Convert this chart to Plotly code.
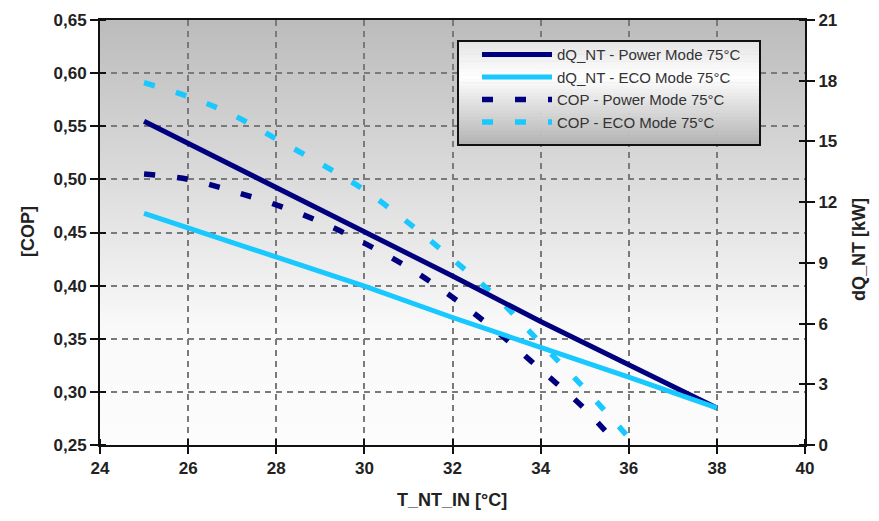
import plotly.graph_objects as go

# ---------------- data ----------------
t_dq = [25, 28, 30, 32, 34, 36, 38]
dq_power = [16.0, 12.75, 10.55, 8.35, 6.1, 3.95, 1.83]
dq_eco = [11.45, 9.3, 7.85, 6.3, 4.85, 3.35, 1.83]

t_cop_power = [25, 26, 27, 28, 29, 30, 31, 32, 33, 34, 35, 35.75]
cop_power = [0.505, 0.500, 0.489, 0.476, 0.460, 0.440, 0.417, 0.389, 0.357, 0.321, 0.284, 0.250]

t_cop_eco = [25, 26, 27, 28, 29, 30, 31, 32, 33, 34, 35, 36, 36.15]
cop_eco = [0.591, 0.578, 0.561, 0.538, 0.515, 0.490, 0.459, 0.425, 0.389, 0.346, 0.303, 0.257, 0.250]

names = ["dQ_NT - Power Mode 75°C", "dQ_NT - ECO Mode 75°C",
         "COP - Power Mode 75°C", "COP - ECO Mode 75°C"]

x_ticks = [24, 26, 28, 30, 32, 34, 36, 38, 40]
cop_ticks = [0.25, 0.30, 0.35, 0.40, 0.45, 0.50, 0.55, 0.60, 0.65]
kw_ticks = [0, 3, 6, 9, 12, 15, 18, 21]

x_title = "T_NT_IN [°C]"
y_title = "[COP]"
y2_title = "dQ_NT [kW]"

DARK = "#00007f"
LIGHT = "#18c8ff"
FONT = "Arial, Liberation Sans, sans-serif"

# page body has an 8px default margin -> figure is offset by 8px
OFF = 8

fig = go.Figure()
fig.add_trace(go.Scatter(x=t_dq, y=dq_power, yaxis="y2", mode="lines", name=names[0],
                         legendgroup="a", line=dict(color=DARK, width=5)))
fig.add_trace(go.Scatter(x=t_dq, y=dq_eco, yaxis="y2", mode="lines", name=names[1],
                         legendgroup="b", line=dict(color=LIGHT, width=5)))
fig.add_trace(go.Scatter(x=t_cop_power, y=cop_power, mode="lines", name=names[2],
                         legendgroup="c", line=dict(color=DARK, width=5.5, dash="11px,22px", shape="spline")))
fig.add_trace(go.Scatter(x=t_cop_eco, y=cop_eco, mode="lines", name=names[3],
                         legendgroup="d", line=dict(color=LIGHT, width=5.5, dash="11px,22px", shape="spline")))

shapes = []
# plot-area vertical gradient
n = 85
for i in range(n):
    t = (i + 0.5) / n  # 0 at top
    if t <= 0.72:
        g = 188 + (249 - 188) * t / 0.72
    else:
        g = 249 + 3 * (t - 0.72) / 0.28
    c = int(round(g))
    shapes.append(dict(type="rect", xref="paper", yref="paper",
                       x0=0, x1=1, y0=1 - (i + 1) / n, y1=1 - i / n + 0.002,
                       fillcolor=f"rgb({c},{c},{c})", line=dict(width=0), layer="below"))

# legend box gradient
lx0, lx1 = (458 - 100) / 705, (760 - 100) / 705
ly0, ly1 = (445 - 145) / 425, (445 - 41) / 425
m = 30
for i in range(m):
    t = (i + 0.5) / m
    if t < 0.35:
        g = 228 + (255 - 228) * t / 0.35
    else:
        g = 255 - (255 - 178) * (t - 0.35) / 0.65
    c = int(round(g))
    shapes.append(dict(type="rect", xref="paper", yref="paper",
                       x0=lx0, x1=lx1,
                       y0=ly1 - (i + 1) * (ly1 - ly0) / m, y1=ly1 - i * (ly1 - ly0) / m + 0.001,
                       fillcolor=f"rgb({c},{c},{c})", line=dict(width=0), layer="above"))
shapes.append(dict(type="rect", xref="paper", yref="paper", x0=lx0, x1=lx1, y0=ly0, y1=ly1,
                   line=dict(color="#111111", width=2), fillcolor="rgba(0,0,0,0)", layer="above"))

tickfont = dict(family=FONT, size=17, color="#222222", weight="bold")
titlefont = dict(family=FONT, size=18, color="#222222", weight="bold")

annotations = [
    dict(text=y_title, xref="paper", yref="paper", x=(28 - 100) / 705, y=(445 - 232) / 425,
         textangle=-90, showarrow=False, font=titlefont, xanchor="center", yanchor="middle"),
    dict(text=y2_title, xref="paper", yref="paper", x=(859 - 100) / 705, y=(445 - 250) / 425,
         textangle=-90, showarrow=False, font=titlefont, xanchor="center", yanchor="middle"),
    dict(text=x_title, xref="paper", yref="paper", x=(452 - 100) / 705, y=(445 - 500) / 425,
         showarrow=False, font=titlefont, xanchor="center", yanchor="middle"),
]


def inner_ticks(vals):
    return dict(tickvals=vals, ticks="inside", ticklen=6, tickwidth=2,
                tickcolor="#111111", showgrid=False)


fig.update_layout(
    width=879 - OFF, height=521 - OFF,
    margin=dict(l=100 - OFF, r=74, t=20 - OFF, b=76, autoexpand=False),
    paper_bgcolor="white",
    plot_bgcolor="rgba(0,0,0,0)",
    separators=",.",
    shapes=shapes,
    annotations=annotations,
    showlegend=True,
    legend=dict(x=(477 - 100) / 705, y=0.957, xanchor="left", yanchor="top",
                bgcolor="rgba(0,0,0,0)", borderwidth=0,
                font=dict(family=FONT, size=15, color="#333333"),
                traceorder="grouped", tracegroupgap=0, itemwidth=70),
    xaxis=dict(range=[24, 40], tickvals=x_ticks, ticks="outside", ticklen=7, tickwidth=2,
               tickcolor="#111111", showline=True, linecolor="#111111", linewidth=2, mirror=True,
               showgrid=True, gridcolor="#7a7a7a", gridwidth=1.5, griddash="6px,5px",
               zeroline=False, tickfont=tickfont, automargin=False,
               minor=inner_ticks(x_ticks)),
    yaxis=dict(range=[0.25, 0.65], tickvals=cop_ticks, tickformat=".2f", ticks="outside",
               ticklen=8, tickwidth=2, tickcolor="#111111", showline=True, linecolor="#111111",
               linewidth=2, showgrid=True, gridcolor="#7a7a7a", gridwidth=1.5,
               griddash="6px,5px", zeroline=False, tickfont=tickfont, automargin=False,
               minor=inner_ticks(cop_ticks)),
    yaxis2=dict(range=[0, 21], tickvals=kw_ticks, overlaying="y", side="right", ticks="outside",
                ticklen=8, tickwidth=2, tickcolor="#111111", showline=True, linecolor="#111111",
                linewidth=2, showgrid=False, zeroline=False, tickfont=tickfont, automargin=False,
                minor=inner_ticks(kw_ticks)),
)

fig.write_html("out.html")
